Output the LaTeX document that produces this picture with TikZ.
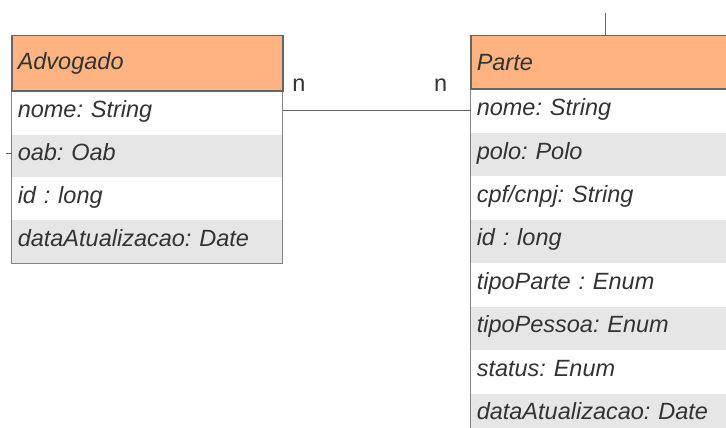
\documentclass[tikz,border=0pt]{standalone}
\usepackage{fontspec}
\setmainfont{Liberation Sans}
\usetikzlibrary{positioning}
\definecolor{header}{HTML}{FFB380}
\definecolor{shade}{HTML}{E6E6E6}
\definecolor{frame}{HTML}{666666}
\definecolor{txt}{HTML}{333333}
\frenchspacing

\begin{document}
\begin{tikzpicture}[x=1pt,y=-1pt,
	cls/.style={draw=frame, line width=1.5pt, fill=header, minimum height=55pt, font=\fontsize{23.5}{27}\selectfont\itshape, text=txt, inner xsep=6pt, inner ysep=0pt, align=left},
	attr/.style={fill=white, minimum height=42.5pt, font=\fontsize{23.5}{27}\selectfont\itshape, text=txt, text height=17pt, text depth=8pt, inner xsep=6pt, inner ysep=0pt, align=left},
	attrb/.style={attr, fill=shade},
	lbl/.style={font=\fontsize{23.5}{27}\selectfont, text=txt, inner sep=0pt}]
					\clip (0,0) rectangle (726,428);

					% Advogado
					\node[cls, text width=259pt, anchor=north west] (adv) at (11,35) {Advogado};
					\node[attr, text width=259pt] (adv1)[below=0pt of adv] {nome: String};
					\node[attrb, text width=259pt] (adv2)[below=0pt of adv1] {oab: Oab};
					\node[attr, text width=259pt] (adv3)[below=0pt of adv2] {id : long};
					\node[attrb, text width=259pt] (adv4)[below=0pt of adv3] {dataAtualizacao: Date};
					\draw[frame!80, line width=1pt] (adv1.north west) rectangle (adv4.south east);
					\draw[frame, line width=1.5pt] (adv.south west) -- (adv.south east);

					% Parte
					\node[cls, text width=268pt, minimum height=53pt, anchor=north west] (parte) at (470,35) {Parte};
					\node[attr, text width=268pt, minimum height=43pt] (parte1)[below=0pt of parte] {nome: String};
					\node[attrb, text width=268pt, minimum height=43pt] (parte2)[below=0pt of parte1] {polo: Polo};
					\node[attr, text width=268pt, minimum height=43pt] (parte3)[below=0pt of parte2] {cpf/cnpj: String};
					\node[attrb, text width=268pt, minimum height=43pt] (parte4)[below=0pt of parte3] {id : long};
					\node[attr, text width=268pt, minimum height=43pt] (parte5)[below=0pt of parte4] {tipoParte : Enum};
					\node[attrb, text width=268pt, minimum height=43pt] (parte6)[below=0pt of parte5] {tipoPessoa: Enum};
					\node[attr, text width=268pt, minimum height=43pt] (parte7)[below=0pt of parte6] {status: Enum};
					\node[attrb, text width=268pt, minimum height=43pt] (parte8)[below=0pt of parte7] {dataAtualizacao: Date};
					\draw[frame!80, line width=1pt] (parte1.north west) rectangle (parte8.south east);
					\draw[frame, line width=1.5pt] (parte.south west) -- (parte.south east);

					\coordinate (top) at (605,13);
					\coordinate (stub) at (6,153);

					\path[draw=frame, line width=1pt]
					(adv1.east |- 0,110) edge node[lbl, pos=0.085, above=18pt] {n} node[lbl, pos=0.84, above=18pt] {n} (parte1.west |- 0,110)
					(top) edge (top |- parte.north)
					(stub) edge (stub -| adv2.west)
					;
				\end{tikzpicture}
\end{document}
